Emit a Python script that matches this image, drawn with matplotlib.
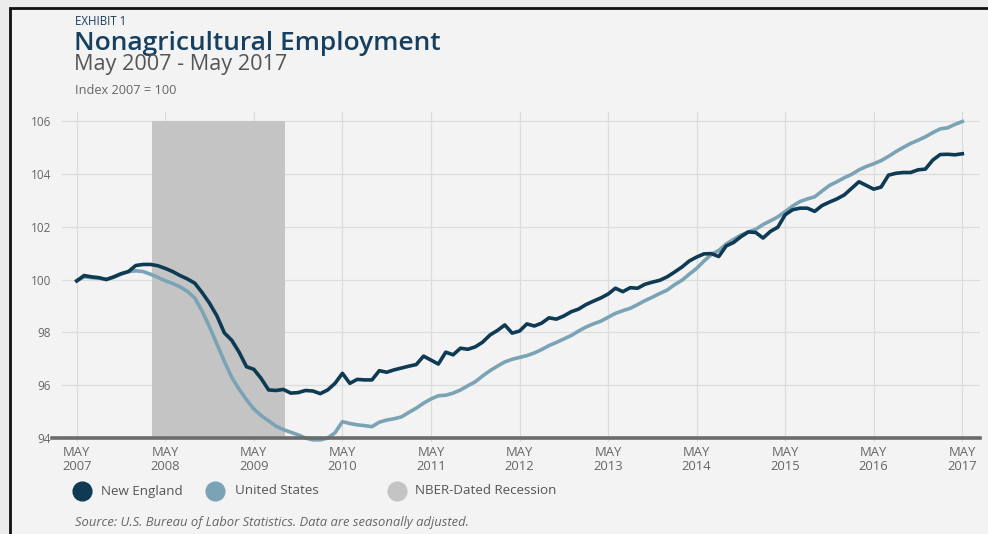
import numpy as np
import matplotlib
matplotlib.use("Agg")
import matplotlib.pyplot as plt
from matplotlib.lines import Line2D
from matplotlib.patches import Rectangle

plt.rcParams['font.family'] = ['Open Sans', 'DejaVu Sans']

# Monthly index values, May 2007 .. May 2017 (Index 2007 = 100)
new_england = [
    99.95, 100.15, 100.10, 100.07, 100.00, 100.10, 100.22, 100.30, 100.53, 100.57,
    100.57, 100.52, 100.42, 100.30, 100.15, 100.02, 99.86, 99.50, 99.10, 98.62,
    97.98, 97.70, 97.25, 96.70, 96.60, 96.25, 95.82, 95.80, 95.84, 95.70,
    95.72, 95.80, 95.78, 95.68, 95.82, 96.07, 96.45, 96.07, 96.22, 96.20,
    96.20, 96.55, 96.49, 96.58, 96.65, 96.72, 96.78, 97.10, 96.95, 96.80,
    97.25, 97.15, 97.40, 97.36, 97.45, 97.63, 97.90, 98.07, 98.28, 97.97,
    98.05, 98.32, 98.24, 98.35, 98.55, 98.50, 98.62, 98.78, 98.88, 99.05,
    99.18, 99.30, 99.45, 99.67, 99.54, 99.69, 99.67, 99.82, 99.90, 99.97,
    100.10, 100.28, 100.47, 100.70, 100.85, 100.97, 100.98, 100.87, 101.27, 101.40,
    101.62, 101.80, 101.78, 101.57, 101.82, 101.98, 102.45, 102.64, 102.70, 102.70,
    102.58, 102.80, 102.93, 103.05, 103.20, 103.45, 103.70, 103.56, 103.42, 103.50,
    103.95, 104.02, 104.05, 104.05, 104.15, 104.18, 104.52, 104.73, 104.74, 104.72,
    104.76,
]
united_states = [
    99.95, 100.10, 100.07, 100.05, 100.00, 100.08, 100.20, 100.30, 100.33, 100.30,
    100.20, 100.08, 99.95, 99.85, 99.72, 99.55, 99.30, 98.80, 98.20, 97.55,
    96.90, 96.30, 95.85, 95.45, 95.10, 94.85, 94.65, 94.45, 94.32, 94.22,
    94.12, 94.00, 93.93, 93.93, 94.00, 94.20, 94.62, 94.55, 94.50, 94.47,
    94.43, 94.60, 94.68, 94.73, 94.80, 94.97, 95.13, 95.32, 95.48, 95.60,
    95.62, 95.70, 95.82, 95.98, 96.13, 96.35, 96.55, 96.72, 96.88, 96.98,
    97.05, 97.12, 97.22, 97.35, 97.50, 97.62, 97.75, 97.88, 98.05, 98.20,
    98.32, 98.42, 98.57, 98.72, 98.82, 98.91, 99.05, 99.20, 99.33, 99.47,
    99.60, 99.80, 99.97, 100.20, 100.42, 100.70, 100.95, 101.10, 101.34, 101.52,
    101.68, 101.80, 101.90, 102.08, 102.22, 102.37, 102.57, 102.78, 102.95, 103.05,
    103.13, 103.35, 103.56, 103.70, 103.85, 103.98, 104.15, 104.28, 104.38, 104.50,
    104.66, 104.84, 105.00, 105.15, 105.27, 105.40, 105.56, 105.70, 105.74, 105.87,
    105.98,
]
years = list(range(2007, 2018))
y_ticks = [94, 96, 98, 100, 102, 104, 106]
# recession band, in months after May 2007
recession = (10.25, 28.25)
series_names = ["New England", "United States", "NBER-Dated Recession"]

NE_COLOR = "#0e3a53"
US_COLOR = "#7ba3b6"
REC_COLOR = "#c4c4c4"
TEXT_GREY = "#666666"

W, H = 988, 534

def fx(px):
    return px / W

def fy(py):
    return 1 - py / H

months = np.arange(len(new_england))
tick_pos = [12 * i for i in range(len(years))]
tick_labels = [f"MAY\n{y}" for y in years]

fig = plt.figure(figsize=(9.88, 5.34), dpi=100)
fig.patch.set_facecolor("#ececec")

# chart card with a dark frame on the left and top
card = Rectangle((fx(10), -0.05), 1.05, fy(8) + 0.05, transform=fig.transFigure,
                 facecolor="#f3f3f3", edgecolor="#111111", linewidth=2.0, zorder=0)
fig.add_artist(card)

ax = fig.add_axes([fx(62), fy(442), fx(980 - 62), (442 - 112) / H])
ax.set_facecolor("none")
ax.set_xlim(-2, 122.4)
ax.set_ylim(93.85, 106.34)

ax.fill_between(recession, 94, 106, color=REC_COLOR, zorder=1, linewidth=0)

ax.set_yticks(y_ticks)
ax.set_xticks(tick_pos)
ax.set_xticklabels(tick_labels)
ax.grid(True, color="#dcdcdc", linewidth=0.9, zorder=0)
ax.set_axisbelow(True)
for s in ax.spines.values():
    s.set_visible(False)
ax.tick_params(axis="both", length=0, colors=TEXT_GREY)
ax.tick_params(axis="y", pad=8, labelsize=8.5)
ax.tick_params(axis="x", pad=3, labelsize=9.4)
for lbl in ax.get_xticklabels():
    lbl.set_linespacing(1.05)

ax.plot(months, united_states, color=US_COLOR, linewidth=2.6, zorder=3, solid_joinstyle="round")
ax.axhline(94, xmin=-0.011, xmax=1.0, color="#6b6b6b", linewidth=2.6, zorder=4, clip_on=False)
ax.plot(months, new_england, color=NE_COLOR, linewidth=2.6, zorder=5, solid_joinstyle="round")

# header text
fig.text(fx(75), fy(25), "EXHIBIT 1", fontsize=8.3, color="#1a3d5a", va="baseline")
fig.text(fx(74), fy(50), "Nonagricultural Employment", fontsize=19, weight="semibold",
         color="#173f5f", va="baseline")
fig.text(fx(74), fy(70), "May 2007 - May 2017", fontsize=15.6, color="#555555", va="baseline")
fig.text(fx(75), fy(94), "Index 2007 = 100", fontsize=9.2, color=TEXT_GREY, va="baseline")

# legend row
legend_y = fy(491)
for cx, tx, col, name in [(82, 101, NE_COLOR, series_names[0]),
                          (215, 235, US_COLOR, series_names[1]),
                          (397, 415, REC_COLOR, series_names[2])]:
    fig.add_artist(Line2D([fx(cx)], [legend_y], marker="o", markersize=13.5,
                          color=col, linestyle="none", transform=fig.transFigure))
    fig.text(fx(tx), legend_y, name, fontsize=9.6, color="#555555", va="center")

fig.text(fx(75), fy(526),
         "Source: U.S. Bureau of Labor Statistics. Data are seasonally adjusted.",
         fontsize=9.4, style="italic", color=TEXT_GREY, va="baseline")

plt.savefig("out.png", dpi=100, facecolor=fig.get_facecolor())
